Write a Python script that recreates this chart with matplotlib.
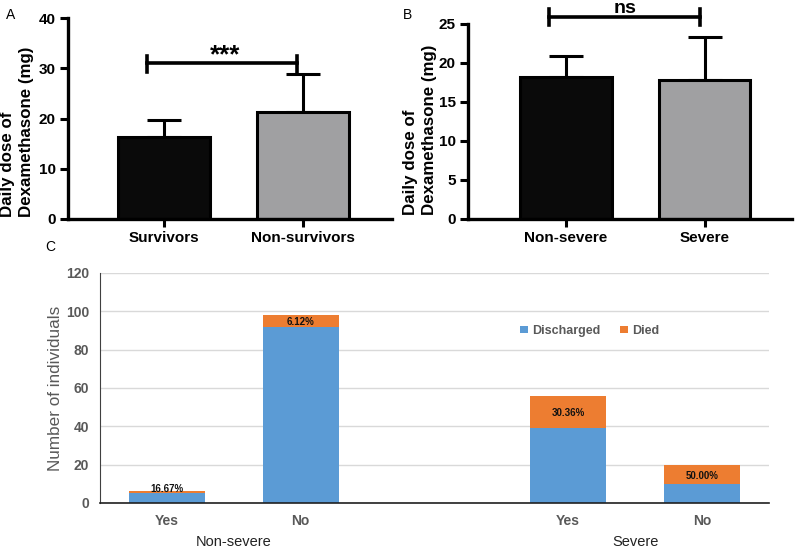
import matplotlib
matplotlib.use("Agg")
import matplotlib.pyplot as plt
import numpy as np

plt.rcParams['font.family'] = ['Liberation Sans', 'DejaVu Sans']

# Panel A
a_cats = ["Survivors", "Non-survivors"]
a_means = [16.3, 21.3]
a_sd = [3.4, 7.6]
# Panel B
b_cats = ["Non-severe", "Severe"]
b_means = [18.2, 17.8]
b_sd = [2.7, 5.5]
# Panel C
c_cats = ["Yes", "No", "Yes", "No"]
c_groups = ["Non-severe", "Severe"]
c_discharged = [5, 92, 39, 10]
c_died = [1, 6, 17, 10]
c_pct = ["16.67%", "6.12%", "30.36%", "50.00%"]

fig = plt.figure(figsize=(8, 5.52), dpi=100)

def prism(ax, cats, means, sd, ylim, yticks, xlim, lab_x, lab_y):
    x = np.arange(len(cats))
    ax.bar(x, means, width=0.66, color=["#0a0a0a", "#a0a0a2"], edgecolor="black",
           linewidth=2.2, zorder=2)
    ax.errorbar(x, means, yerr=[np.zeros(len(sd)), sd], fmt="none", ecolor="black",
                elinewidth=2.2, capsize=12, capthick=2.2, zorder=1)
    ax.set_xlim(*xlim)
    ax.set_ylim(*ylim)
    ax.set_yticks(yticks)
    ax.set_xticks(x)
    ax.set_xticklabels(cats, fontsize=11, fontweight="bold")
    for lab in ax.get_yticklabels():
        lab.set_fontweight("bold")
        lab.set_fontsize(11)
    for s in ["top", "right"]:
        ax.spines[s].set_visible(False)
    for s in ["left", "bottom"]:
        ax.spines[s].set_linewidth(2.4)
    ax.tick_params(width=2.2, length=6, pad=3)
    ax.text(lab_x, lab_y, "Daily dose of\nDexamethasone (mg)", transform=ax.transAxes,
            rotation=90, ha="center", va="bottom", multialignment="left",
            fontsize=12.2, fontweight="bold", linespacing=1.3)

axA = fig.add_axes([0.085, 0.6033, 0.405, 0.364])
prism(axA, a_cats, a_means, a_sd, (0, 40), [0, 10, 20, 30, 40], (-0.69, 1.64), -0.157, 0.01)
axA.plot([0 - 0.12, 1 - 0.04], [31, 31], color="black", lw=2.6, clip_on=False)
axA.plot([0 - 0.12, 0 - 0.12], [29.3, 32.5], color="black", lw=2.6, clip_on=False)
axA.plot([1 - 0.04, 1 - 0.04], [29.3, 32.5], color="black", lw=2.6, clip_on=False)
axA.text(0.44, 31.2, "***", ha="center", va="baseline", fontsize=18.5, fontweight="bold")
fig.text(0.007, 0.985, "A", fontsize=10, va="top")

axB = fig.add_axes([0.585, 0.6033, 0.405, 0.3533])
prism(axB, b_cats, b_means, b_sd, (0, 25), [0, 5, 10, 15, 20, 25], (-0.705, 1.63), -0.148, 0.02)
axB.plot([-0.12, 0.97], [25.9, 25.9], color="black", lw=2.6, clip_on=False)
axB.plot([-0.12, -0.12], [24.9, 26.9], color="black", lw=2.6, clip_on=False)
axB.plot([0.97, 0.97], [24.9, 26.9], color="black", lw=2.6, clip_on=False)
axB.text(0.43, 26.4, "ns", ha="center", va="baseline", fontsize=14, fontweight="bold", clip_on=False)
fig.text(0.504, 0.985, "B", fontsize=10, va="top")

# Panel C
axC = fig.add_axes([0.125, 0.0888, 0.836, 0.4167])
xc = np.array([0, 1, 3, 4])
blue = "#5b9bd5"
orange = "#ed7d31"
axC.bar(xc, c_discharged, width=0.57, color=blue, label="Discharged", zorder=2)
axC.bar(xc, c_died, bottom=c_discharged, width=0.57, color=orange, label="Died", zorder=2)
for xi, d, k, p in zip(xc, c_discharged, c_died, c_pct):
    if k < 3:
        y = d + k + 1.3
    else:
        y = d + k / 2 - 0.8
    axC.text(xi, y, p, ha="center", va="center", fontsize=7, fontweight="bold", color="#111111")
axC.set_xlim(-0.5, 4.5)
axC.set_ylim(0, 120)
axC.set_yticks(range(0, 121, 20))
axC.yaxis.grid(True, color="#d9d9d9", lw=1)
axC.set_axisbelow(True)
axC.set_xticks(xc)
axC.set_xticklabels(c_cats, fontsize=10, fontweight="bold", color="#595959")
for lab in axC.get_yticklabels():
    lab.set_fontweight("bold")
    lab.set_color("#595959")
    lab.set_fontsize(10)
axC.tick_params(length=0, pad=8)
for s in ["top", "right"]:
    axC.spines[s].set_visible(False)
axC.spines["left"].set_color("#404040")
axC.spines["left"].set_linewidth(0.8)
axC.spines["bottom"].set_color("#202020")
axC.spines["bottom"].set_linewidth(1.2)
axC.set_ylabel("Number of individuals", fontsize=12.3, color="#595959")
axC.yaxis.set_label_coords(-0.056, 0.5)
axC.legend(loc="center left", bbox_to_anchor=(0.628, 0.748), ncol=2, frameon=False,
           fontsize=9, handlelength=0.6, handleheight=0.6, columnspacing=1.6,
           handletextpad=0.35, labelcolor="#595959", borderaxespad=0, borderpad=0,
           prop={"weight": "bold", "size": 9})
for t, xg in zip(c_groups, [0.5, 3.5]):
    axC.text(xg, -0.17, t, transform=axC.get_xaxis_transform(), ha="center", va="center",
             fontsize=10.5, color="#222222")
fig.text(0.056, 0.565, "C", fontsize=10, va="top")

fig.savefig("out.png", dpi=100)
